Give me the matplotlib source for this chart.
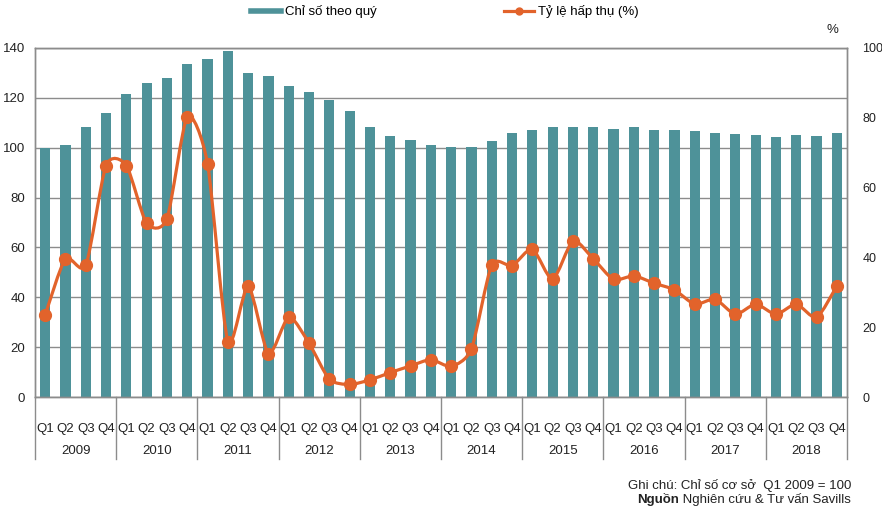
import numpy as np
import matplotlib
matplotlib.use("Agg")
import matplotlib.pyplot as plt
from matplotlib.path import Path
from matplotlib.patches import PathPatch
from matplotlib.lines import Line2D
import matplotlib.transforms as mtransforms

plt.rcParams['font.family'] = ['Liberation Sans', 'DejaVu Sans']

years = ['2009', '2010', '2011', '2012', '2013', '2014', '2015', '2016', '2017', '2018']
quarters = ['Q1', 'Q2', 'Q3', 'Q4']

index_values = [100.0, 100.9, 108.3, 114.0,
                121.7, 126.1, 128.0, 133.6,
                135.7, 138.9, 129.9, 128.7,
                124.9, 122.5, 119.3, 114.7,
                108.5, 104.8, 103.2, 100.9,
                100.3, 100.3, 102.7, 106.0,
                107.3, 108.3, 108.3, 108.3,
                107.6, 108.3, 107.3, 107.3,
                106.7, 106.0, 105.5, 105.1,
                104.3, 104.9, 104.5, 105.9]

absorption = [23.5, 39.6, 37.7, 66.3,
              66.3, 49.8, 51.1, 80.3,
              66.8, 15.9, 31.8, 12.4,
              22.9, 15.4, 5.1, 3.6,
              4.9, 7.0, 8.9, 10.7,
              8.8, 13.8, 37.8, 37.6,
              42.4, 33.7, 44.7, 39.6,
              33.7, 34.7, 32.6, 30.7,
              26.6, 28.0, 23.7, 26.6,
              23.7, 26.6, 22.8, 31.8]

bar_label = 'Chỉ số theo quý'
line_label = 'Tỷ lệ hấp thụ (%)'
note_text = 'Ghi chú: Chỉ số cơ sở  Q1 2009 = 100'
source_bold = 'Nguồn'
source_rest = ' Nghiên cứu & Tư vấn Savills'

TEAL = '#4E9299'
ORANGE = '#E2632B'
GRID = '#8C8C8C'
FS = 9.5

fig = plt.figure(figsize=(8.82, 5.25), dpi=100)
ax = fig.add_axes([35 / 882, 1 - 397 / 525, (847 - 35) / 882, (397 - 48) / 525])
ax2 = ax.twinx()

n = len(index_values)
x = np.arange(n)
ax.bar(x, index_values, width=0.5, color=TEAL, zorder=2)
ax.set_xlim(-0.5, n - 0.5)
ax.set_ylim(0, 140)
ax.set_yticks(np.arange(0, 141, 20))
ax.grid(axis='y', color=GRID, lw=1.0, zorder=0)
ax.set_axisbelow(True)
ax.set_xticks([])
ax.tick_params(axis='y', length=0, pad=7, labelsize=FS, labelcolor='#222222')

ax2.set_ylim(0, 100)
ax2.set_yticks(np.arange(0, 101, 20))
ax2.tick_params(axis='y', length=0, pad=11, labelsize=9, labelcolor='#222222')

for a in (ax, ax2):
    for s in a.spines.values():
        s.set_color(GRID)
        s.set_linewidth(1.0)

# smoothed line (Bezier through the data points)
y = np.asarray(absorption, dtype=float)
verts = [(x[0], y[0])]
codes = [Path.MOVETO]
k = 0.12
for i in range(n - 1):
    p0 = (x[max(i - 1, 0)], y[max(i - 1, 0)])
    p1 = (x[i], y[i])
    p2 = (x[i + 1], y[i + 1])
    p3 = (x[min(i + 2, n - 1)], y[min(i + 2, n - 1)])
    c1 = (p1[0] + (p2[0] - p0[0]) * k, p1[1] + (p2[1] - p0[1]) * k)
    c2 = (p2[0] - (p3[0] - p1[0]) * k, p2[1] - (p3[1] - p1[1]) * k)
    verts += [c1, c2, p2]
    codes += [Path.CURVE4] * 3
ax2.add_patch(PathPatch(Path(verts, codes), fill=False, edgecolor=ORANGE,
                        lw=2.3, zorder=3, capstyle='round', joinstyle='round'))
ax2.plot(x, y, 'o', color=ORANGE, ms=8.5, zorder=4)

# two-level category axis
trans = mtransforms.blended_transform_factory(ax.transData, ax.transAxes)
h = 349.0
for i in range(n):
    ax.text(x[i], -(429 - 397) / h, quarters[i % 4], transform=trans,
            ha='center', va='center', fontsize=FS, color='#222222')
for j, yr in enumerate(years):
    ax.text(4 * j + 1.5, -(451 - 397) / h, yr, transform=trans,
            ha='center', va='center', fontsize=FS, color='#222222')
for j in range(len(years) + 1):
    xb = 4 * j - 0.5
    ax.plot([xb, xb], [0, -(459 - 397) / h], transform=trans, color=GRID,
            lw=1.0, clip_on=False)

# '%' label
fig.text(832 / 882, 1 - 30 / 525, '%', ha='center', va='center', fontsize=FS, color='#222222')

# legend
handles = [Line2D([], [], color=TEAL, lw=4),
           Line2D([], [], color=ORANGE, lw=2.3, marker='o', ms=5)]
fig.legend(handles, [bar_label, line_label], loc='center left',
           bbox_to_anchor=(251 / 882, 1 - 12 / 525), ncol=2, frameon=False,
           fontsize=FS, handlelength=2.3, handletextpad=0.3, columnspacing=9.6,
           borderpad=0, borderaxespad=0)

# notes
fig.text(851 / 882, 1 - 485 / 525, note_text, ha='right', va='center', fontsize=FS, color='#222222')
t = fig.text(851 / 882, 1 - 500 / 525, source_rest, ha='right', va='center', fontsize=FS, color='#222222')
fig.canvas.draw()
bb = t.get_window_extent()
fig.text(bb.x0 / fig.bbox.width, 1 - 500 / 525, source_bold, ha='right', va='center',
         fontsize=FS, fontweight='bold', color='#222222')

fig.savefig('out.png', dpi=100)
